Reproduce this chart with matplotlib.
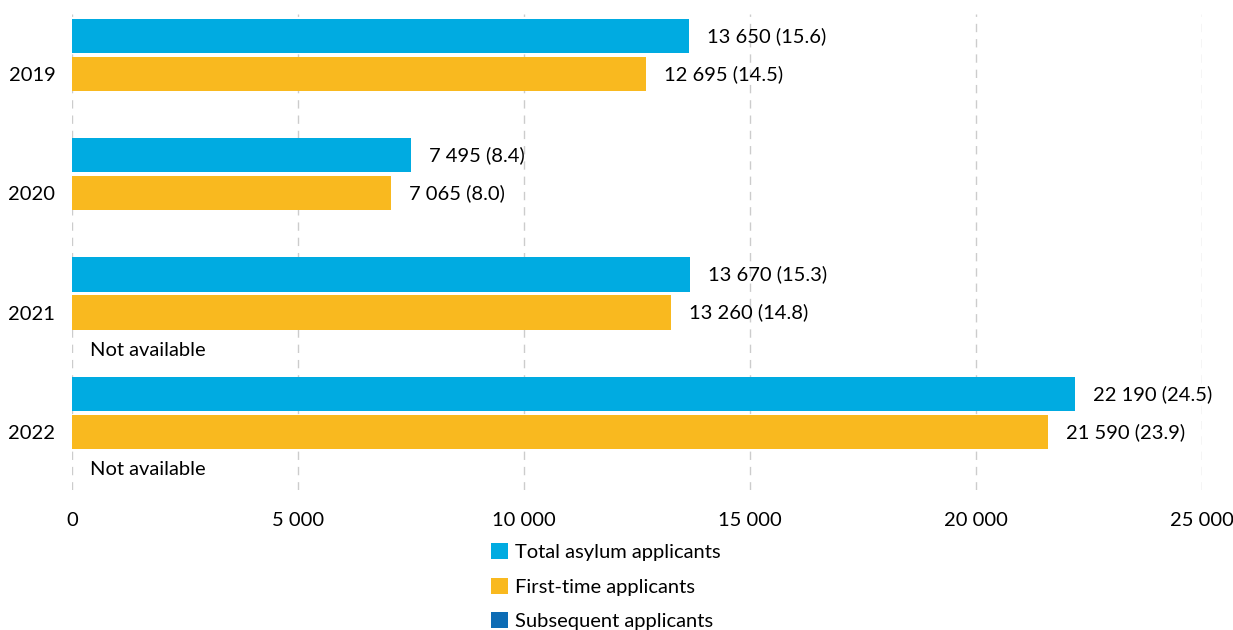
import numpy as np
import matplotlib
matplotlib.use("Agg")
import matplotlib.pyplot as plt
from matplotlib.ticker import FuncFormatter

plt.rcParams['font.family'] = ['Lato', 'DejaVu Sans']

years = ["2019", "2020", "2021", "2022"]
total = [13650, 7495, 13670, 22190]
total_rate = [15.6, 8.4, 15.3, 24.5]
first_time = [12695, 7065, 13260, 21590]
first_rate = [14.5, 8.0, 14.8, 23.9]
subsequent = [np.nan, np.nan, np.nan, np.nan]
subsequent_note = ["", "", "Not available", "Not available"]
series_names = ["Total asylum applicants", "First-time applicants", "Subsequent applicants"]
colors = ["#00ABE1", "#F9B91F", "#0C6CB5"]

def fmt(v):
    return f"{int(v):,}".replace(",", " ")

fig = plt.figure(figsize=(12.33, 6.30), dpi=100)
ax = fig.add_axes([72/1233, 1-490/630, 1130/1233, 476/630])

group_step = 119.3/38
centers = np.arange(len(years)) * group_step + 1
bh = 0.9
fs = 14.5

handles = []
for k, (vals, col, name) in enumerate(zip([total, first_time, subsequent], colors, series_names)):
    ypos = centers + (k - 1)
    h = ax.barh(ypos, np.nan_to_num(vals), height=bh, color=col, label=name, zorder=3)
    handles.append(h)

for i in range(len(years)):
    ax.annotate(f"{fmt(total[i])} ({total_rate[i]:.1f})", (total[i], centers[i]-1),
                xytext=(18, 0), textcoords="offset pixels", va="center", ha="left", fontsize=fs)
    ax.annotate(f"{fmt(first_time[i])} ({first_rate[i]:.1f})", (first_time[i], centers[i]),
                xytext=(18, 0), textcoords="offset pixels", va="center", ha="left", fontsize=fs)
    if subsequent_note[i]:
        ax.annotate(subsequent_note[i], (0, centers[i]+1),
                    xytext=(18, 0), textcoords="offset pixels", va="center", ha="left", fontsize=fs)

ax.set_xlim(0, 25000)
ax.set_ylim(11.95, -0.58)
ax.set_xticks(np.arange(0, 25001, 5000))
ax.xaxis.set_major_formatter(FuncFormatter(lambda v, p: fmt(v)))
ax.set_yticks(centers)
ax.set_yticklabels(years)
ax.tick_params(axis='both', length=0, labelsize=fs)
ax.tick_params(axis='x', pad=16)
ax.tick_params(axis='y', pad=12)
for s in ax.spines.values():
    s.set_visible(False)
ax.grid(axis='x', color="#CCCCCC", linestyle=(0, (6, 5)), linewidth=1, zorder=0)
ax.set_axisbelow(True)

fig.legend(handles=handles, labels=series_names, loc="upper left",
           bbox_to_anchor=(491/1233, 1-543/630), frameon=False, fontsize=fs,
           handlelength=0.85, handleheight=0.85, handletextpad=0.35,
           labelspacing=0.82, borderpad=0, borderaxespad=0)

fig.savefig("out.png", dpi=100)
